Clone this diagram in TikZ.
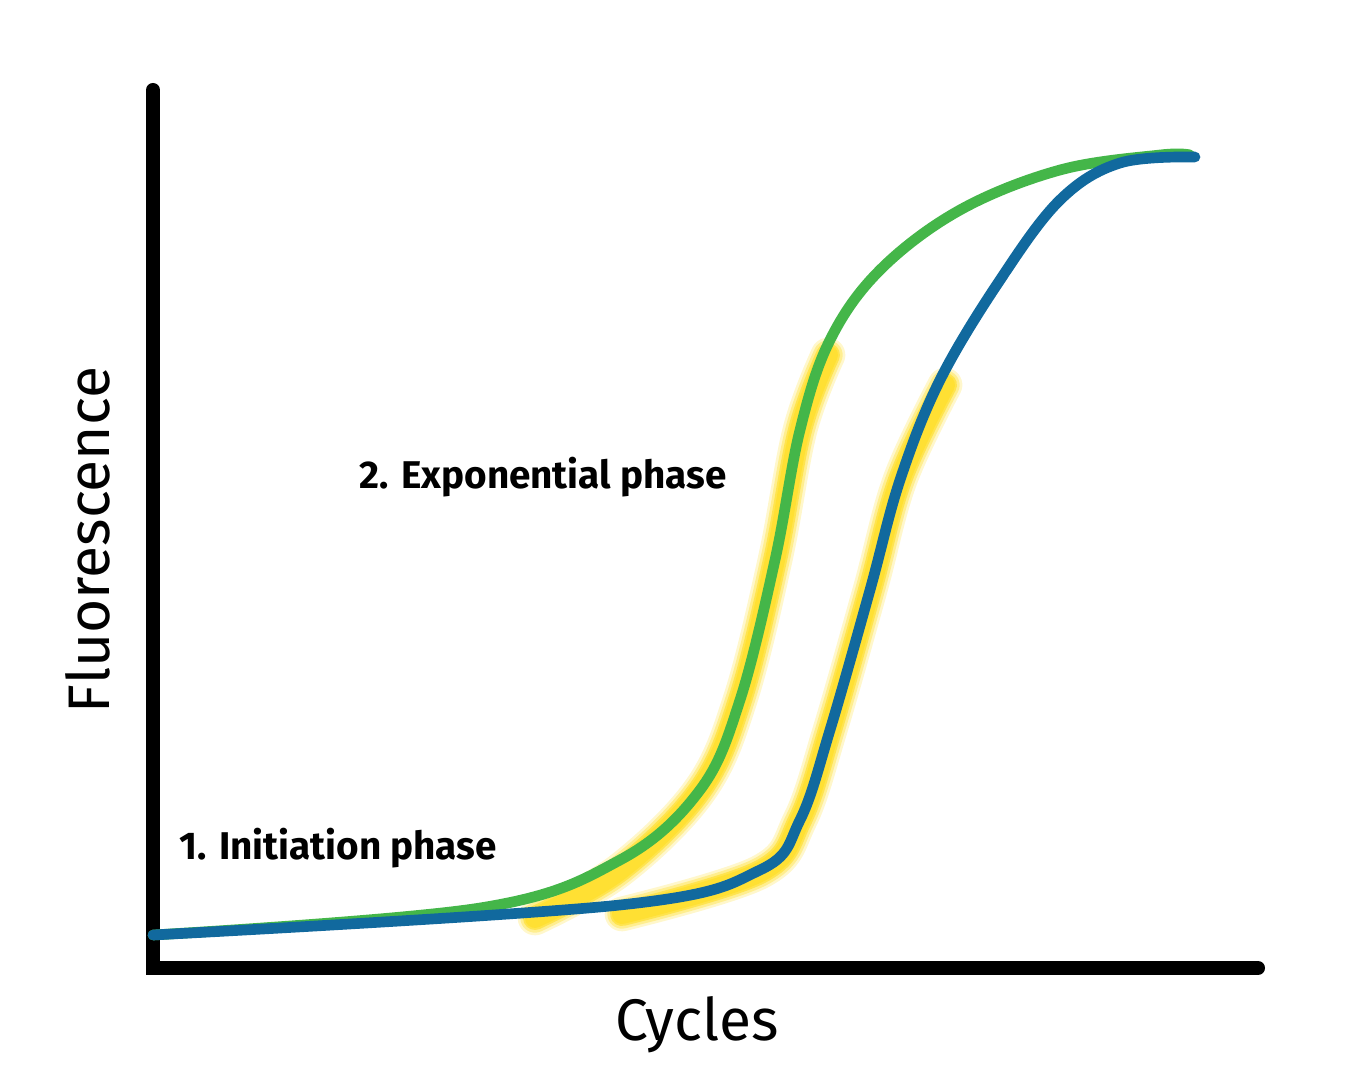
\documentclass[tikz,border=0pt]{standalone}
\usepackage{fontspec}
\setmainfont{Fira Sans}
\definecolor{grn}{HTML}{44B649}
\definecolor{blu}{HTML}{11699E}
\definecolor{ylw}{HTML}{FFE033}
\begin{document}
\begin{tikzpicture}[x=0.75pt,y=-0.75pt,
  axis/.style={line width=10.5pt,line cap=round},
  curve/.style={line width=8pt,line cap=round},
  glow/.style={line cap=round,draw=ylw}]
\useasboundingbox (0,0) rectangle (1350,1080);
\draw[axis] (153,90) -- (153,968) -- (1258,968);
% glows
\foreach \w/\o in {26/0.25,22/0.4,18/0.7,15/1}{
\draw[glow,line width=\w pt,opacity=\o] plot[smooth,tension=0.6] coordinates {(535,918) (620,870) (700,790) (740,700) (775,560) (800,430) (828,355)};
\draw[glow,line width=\w pt,opacity=\o] plot[smooth,tension=0.6] coordinates {(622,914) (760,872) (800,820) (830,730) (870,590) (900,480) (945,385)};
}
\draw[curve,grn] plot[smooth,tension=0.6] coordinates {(153,935) (480,908) (620,860) (700,790) (740,700) (775,560) (800,430) (830,340) (880,270) (960,210) (1060,170) (1160,155) (1190,155)};
\draw[curve,blu] plot[smooth,tension=0.6] coordinates {(153,935) (620,905) (760,870) (800,820) (830,730) (870,590) (900,480) (940,380) (1000,280) (1060,200) (1120,163) (1195,157)};
\node[font=\bfseries\fontsize{29}{34}\selectfont,anchor=west] (exp) at (355,477) {2. Exponential phase};
\node[font=\bfseries\fontsize{29}{34}\selectfont,anchor=west] (ini) at (175,848) {1. Initiation phase};
\node[font=\fontsize{44}{50}\selectfont] (cyc) at (697,1025) {Cycles};
\node[font=\fontsize{44}{50}\selectfont,rotate=90] (flu) at (88,540) {Fluorescence};
\end{tikzpicture}
\end{document}
